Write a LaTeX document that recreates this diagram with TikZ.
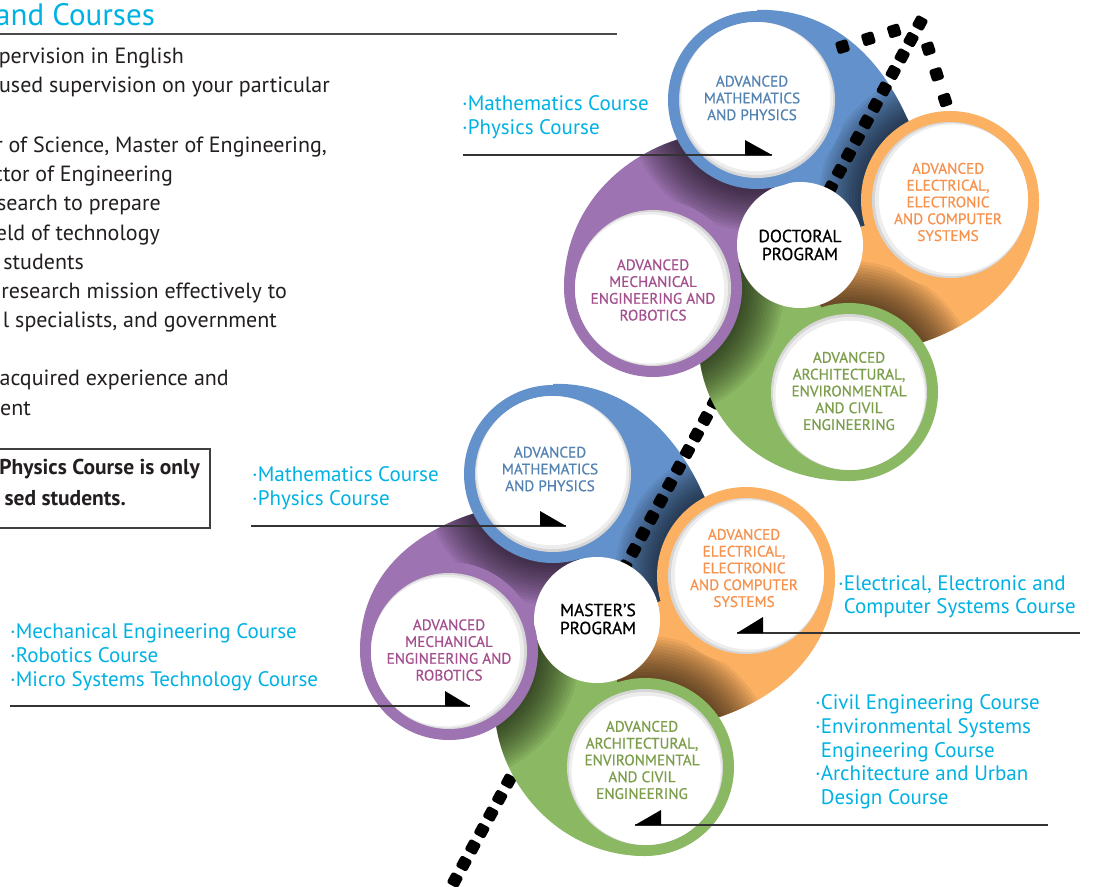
\documentclass[tikz,border=0pt]{standalone}
\usepackage{fontspec}
\setmainfont{PT Sans}
\newfontfamily\labfont[FakeBold=0.6]{PT Sans}
\usetikzlibrary{calc}
\definecolor{cyanT}{HTML}{00B2E3}
\definecolor{blueR}{HTML}{6391CB}
\definecolor{blueT}{HTML}{5282B2}
\definecolor{purpR}{HTML}{9D73B1}
\definecolor{purpT}{HTML}{A4508E}
\definecolor{oranR}{HTML}{FBB062}
\definecolor{oranT}{HTML}{F7914C}
\definecolor{greeR}{HTML}{8BB862}
\definecolor{greeT}{HTML}{7C9E4A}
\definecolor{textD}{HTML}{231F20}
\tikzset{
 dot/.style={rectangle, fill=black, rounded corners=2.5pt, minimum size=12.5pt, inner sep=0pt},
 circlab/.style={align=center, font=\labfont\fontsize{15.2}{16.8}\selectfont, inner sep=0pt},
 proglab/.style={align=center, font=\labfont\fontsize{17.5}{18}\selectfont, text=black, inner sep=0pt},
 course/.style={anchor=mid west, font=\fontsize{21}{24}\selectfont, text=cyanT, inner sep=0pt},
 body/.style={anchor=mid east, font=\fontsize{22}{29}\selectfont, text=textD, inner sep=0pt},
 boxtext/.style={anchor=mid east, font=\bfseries\fontsize{21.5}{29}\selectfont, text=textD, inner sep=0pt},
 pointer/.style={line width=1.3pt, draw=black!80},
 tri/.style={fill=black},
}
% tail: own, next, centre, colour, P0, C1, C2, P3
\newcommand\tail[8]{%
 \fill[#4] ($(#1)+(#5)$) .. controls ($(#1)+(#6)$) and ($(#2)+(#7)$) .. ($(#2)+(#8)$) -- (#2) -- (#3) -- (#1) -- cycle;
 \begin{scope}
 \clip ($(#1)+(#5)$) .. controls ($(#1)+(#6)$) and ($(#2)+(#7)$) .. ($(#2)+(#8)$) -- (#2) -- (#3) -- (#1) -- cycle;
 \foreach \k in {1,...,14} \fill[black,opacity=0.055] (#2) circle [radius={89pt+3pt*\k}];
 \end{scope}}
% ring: centre, colour, angle pointing away from the programme disk
\newcommand\ring[3]{%
 \fill[#2] (#1) circle [radius=89pt];
 \fill[black!16] (#1) circle [radius=78pt];
 \fill[black!7] ($(#1)+(#3:1.5pt)$) circle [radius=76.5pt];
 \fill[white] ($(#1)+(#3:3.5pt)$) circle [radius=74.5pt];}
\begin{document}
\begin{tikzpicture}[x=1pt,y=-1pt]
\path[use as bounding box] (0,0) rectangle (1094,886);
\clip (0,0) rectangle (1094,886);
\fill[white] (0,0) rectangle (1094,886);
% cluster centres
\coordinate (dC) at (800,245); \coordinate (dB) at (757,100);
\coordinate (dP) at (653,288); \coordinate (dO) at (950,200);
\coordinate (dG) at (849,392);
\coordinate (mC) at (597,620); \coordinate (mB) at (553,474);
\coordinate (mP) at (449,651); \coordinate (mO) at (746,576);
\coordinate (mG) at (645,767);
% blue tails
\tail{dB}{dO}{dC}{blueR}{0,-90}{53,-92}{-80,-165}{-43,-82}
\tail{mB}{mO}{mC}{blueR}{0,-90}{53,-92}{-80,-165}{-43,-82}
% dotted arrow
\coordinate (lA) at (455,880); \coordinate (lT) at (920,23);
\foreach \k in {-2,...,52} \node[dot, rotate=61.5] (dot\k) at ($(lA)!\k/52!(lT)$) {};
\foreach \d in {1,2,3} {
 \node[dot, rotate=197] (armA\d) at ($(lT)+(197:{27pt*\d})$) {};
 \node[dot, rotate=-72] (armB\d) at ($(lT)+(-72:{27pt*\d})$) {};
}
% other tails
\tail{dP}{dB}{dC}{purpR}{-89,0}{-89,-75}{-142,60}{-81,40}
\tail{mP}{mB}{mC}{purpR}{-89,0}{-89,-75}{-142,60}{-81,40}
\tail{dO}{dG}{dC}{oranR}{89,0}{89,60}{150,-72}{65,-47}
\tail{mO}{mG}{mC}{oranR}{89,0}{89,60}{150,-72}{65,-47}
\tail{dG}{dP}{dC}{greeR}{0,89}{-80,89}{57,142}{47,74}
\tail{mG}{mP}{mC}{greeR}{0,89}{-80,89}{57,142}{47,74}
% programme disks
\fill[white] (dC) circle [radius=63pt];
\fill[white] (mC) circle [radius=63pt];
% rings
\ring{dB}{blueR}{107} \ring{dP}{purpR}{196} \ring{dO}{oranR}{17} \ring{dG}{greeR}{288}
\ring{mB}{blueR}{107} \ring{mP}{purpR}{192} \ring{mO}{oranR}{16} \ring{mG}{greeR}{288}
% circle labels
\node[proglab] (dCt) at (800,245) {DOCTORAL\\PROGRAM};
\node[proglab] (mCt) at (598,619) {MASTER’S\\PROGRAM};
\node[circlab, text=blueT] (dBt) at (752,98) {ADVANCED\\MATHEMATICS\\AND PHYSICS};
\node[circlab, text=blueT] (mBt) at (550,469) {ADVANCED\\MATHEMATICS\\AND PHYSICS};
\node[circlab, text=purpT] (dPt) at (653,290) {ADVANCED\\MECHANICAL\\ENGINEERING AND\\ROBOTICS};
\node[circlab, text=purpT] (mPt) at (449,650) {ADVANCED\\MECHANICAL\\ENGINEERING AND\\ROBOTICS};
\node[circlab, text=oranT] (dOt) at (948,202) {ADVANCED\\ELECTRICAL,\\ELECTRONIC\\AND COMPUTER\\SYSTEMS};
\node[circlab, text=oranT] (mOt) at (744,568) {ADVANCED\\ELECTRICAL,\\ELECTRONIC\\AND COMPUTER\\SYSTEMS};
\node[circlab, text=greeT] (dGt) at (849,391) {ADVANCED\\ARCHITECTURAL,\\ENVIRONMENTAL\\AND CIVIL\\ENGINEERING};
\node[circlab, text=greeT] (mGt) at (642,760) {ADVANCED\\ARCHITECTURAL,\\ENVIRONMENTAL\\AND CIVIL\\ENGINEERING};
% title and body
\node[anchor=base east, font=\fontsize{31}{31}\selectfont, text=cyanT, inner sep=0pt] (title) at (155,25) {and Courses};
\draw[black!70, line width=1.2pt] (0,34) -- (617,34);
\node[body] (b1) at (184,61) {pervision in English};
\node[body] (b2) at (330,90) {used supervision on your particular};
\node[body] (b3) at (327,150) {r of Science, Master of Engineering,};
\node[body] (b4) at (173,179) {ctor of Engineering};
\node[body] (b5) at (161,208) {search to prepare};
\node[body] (b6) at (160,238) {eld of technology};
\node[body] (b7) at (84,267) {students};
\node[body] (b8) at (287,296) {research mission effectively to};
\node[body] (b9) at (277,325) {l specialists, and government};
\node[body] (b10) at (229,383) {acquired experience and};
\node[body] (b11) at (31,413) {ent};
\draw[black!75, line width=1.2pt] (-5,449) rectangle (210,528);
\node[boxtext] (x1) at (200,472) {Physics Course is only};
\node[boxtext] (x2) at (126,503) {sed students.};
% course labels
\node[course] (c1) at (462,108) {·Mathematics Course};
\node[course] (c2) at (462,132) {·Physics Course};
\node[course] (c3) at (252,479) {·Mathematics Course};
\node[course] (c4) at (252,503) {·Physics Course};
\node[course] (c5) at (10,636) {·Mechanical Engineering Course};
\node[course] (c6) at (10,660) {·Robotics Course};
\node[course] (c7) at (10,684) {·Micro Systems Technology Course};
\node[course] (c8) at (838,588) {·Electrical, Electronic and};
\node[course] (c9) at (838,611) {\phantom{·}Computer Systems Course};
\node[course] (c10) at (815,707) {·Civil Engineering Course};
\node[course] (c11) at (815,731) {·Environmental Systems};
\node[course] (c12) at (815,755) {\phantom{·}Engineering Course};
\node[course] (c13) at (815,778) {·Architecture and Urban};
\node[course] (c14) at (815,802) {\phantom{·}Design Course};
% pointers
\coordinate (p1a) at (463,155); \coordinate (p1b) at (772,155);
\draw[pointer] (p1a) -- (p1b); \fill[tri] (745,140) -- (745,155) -- (p1b) -- cycle;
\coordinate (p2a) at (251,526); \coordinate (p2b) at (566,526);
\draw[pointer] (p2a) -- (p2b); \fill[tri] (540,511) -- (540,526) -- (p2b) -- cycle;
\coordinate (p3a) at (10,706); \coordinate (p3b) at (470,706);
\draw[pointer] (p3a) -- (p3b); \fill[tri] (445,691) -- (445,706) -- (p3b) -- cycle;
\coordinate (p4a) at (1080,633); \coordinate (p4b) at (737,633);
\draw[pointer] (p4a) -- (p4b); \fill[tri] (763,617) -- (763,633) -- (p4b) -- cycle;
\coordinate (p5a) at (1048,825); \coordinate (p5b) at (635,825);
\draw[pointer] (p5a) -- (p5b); \fill[tri] (661,810) -- (661,825) -- (p5b) -- cycle;
\end{tikzpicture}
\end{document}
